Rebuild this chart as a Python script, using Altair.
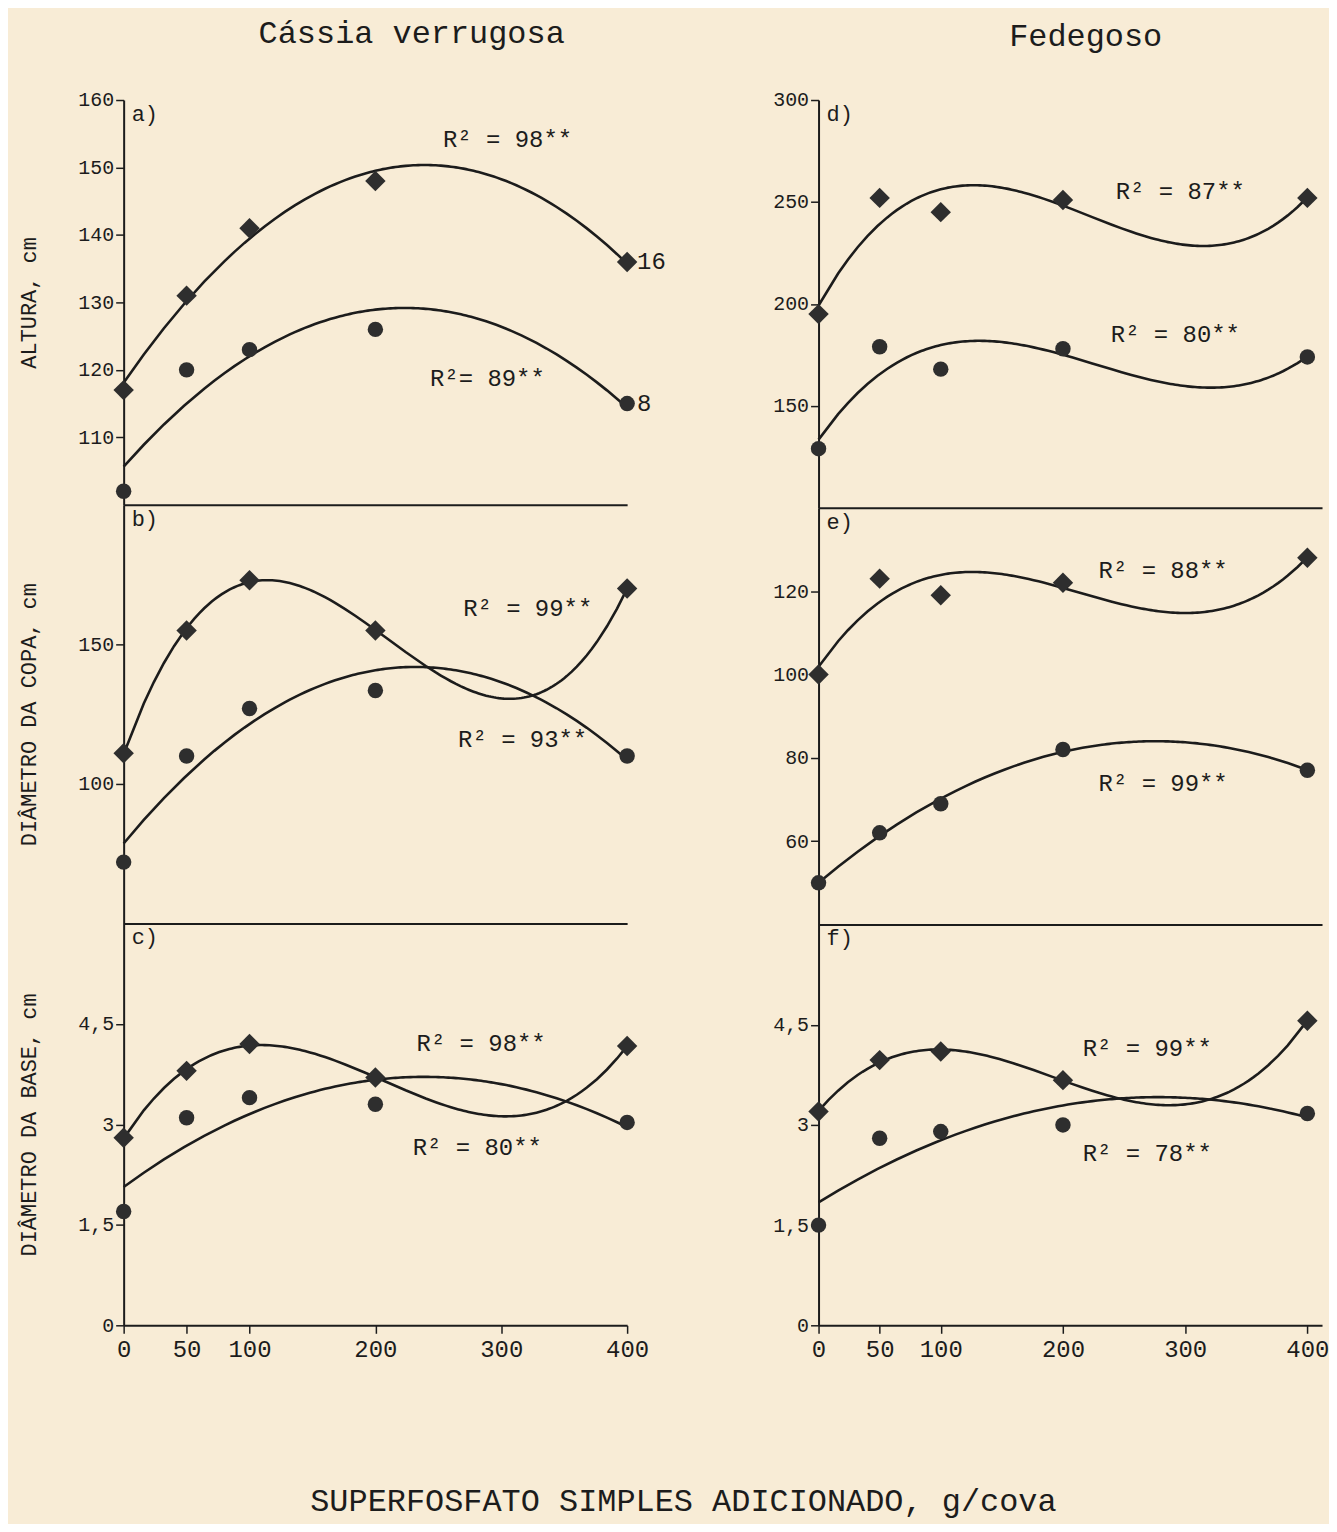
import altair as alt
import pandas as pd

# ---------------- data ----------------
doses = [0, 50, 100, 200, 400]
x_ticks = [0, 50, 100, 200, 300, 400]

# Cássia verrugosa
altura_a_diam = [117, 131, 141, 148, 136]
altura_a_circ = [102, 120, 123, 126, 115]
copa_b_diam = [111, 155, 173, 155, 170]
copa_b_circ = [72, 110, 127, 133.5, 110]
base_c_diam = [2.8, 3.8, 4.2, 3.7, 4.17]
base_c_circ = [1.7, 3.1, 3.4, 3.3, 3.03]

# Fedegoso
altura_d_diam = [195, 252, 245, 251, 252]
altura_d_circ = [129, 179, 168, 178, 174]
copa_e_diam = [100, 123, 119, 122, 128]
copa_e_circ = [50, 62, 69, 82, 77]
base_f_diam = [3.2, 3.97, 4.1, 3.67, 4.56]
base_f_circ = [1.5, 2.8, 2.9, 3.0, 3.17]

# R² labels: (x, y, text)
notes_a = [(305, 154, "R² = 98**"), (289, 118.7, "R²= 89**")]
side_a = [(400, 136, "16"), (400, 115, "8")]
notes_b = [(321, 162.6, "R² = 99**"), (317, 115.8, "R² = 93**")]
notes_c = [(284, 4.2, "R² = 98**"), (281, 2.65, "R² = 80**")]
notes_d = [(296, 255, "R² = 87**"), (292, 184.6, "R² = 80**")]
notes_e = [(282, 124.9, "R² = 88**"), (282, 73.7, "R² = 99**")]
notes_f = [(269, 4.14, "R² = 99**"), (269, 2.57, "R² = 78**")]

FONT = "Liberation Mono"
INK = "#1c1c1c"
MARK = "#2e2e2e"
BG = "#f8ecd6"


def panel(label, diam, circ, ord_d, ord_c, ydom, yvals, xdom, w, h,
          notes, bottom, ytitle=None, side=None):
    df = pd.DataFrame({"x": doses * 2, "y": diam + circ,
                       "s": ["d"] * 5 + ["c"] * 5})
    if bottom:
        xaxis = alt.Axis(values=x_ticks, labelFontSize=24, tickSize=8,
                         labelPadding=4, title=None, labelFlush=False,
                         domainWidth=2)
    else:
        xaxis = alt.Axis(labels=False, ticks=False, title=None, domainWidth=2)
    yaxis = alt.Axis(values=yvals, labelFontSize=20, tickSize=8,
                     labelExpr="replace(format(datum.value, '~g'), '.', ',')",
                     minExtent=50, maxExtent=50, title=ytitle,
                     titleFontSize=22, titlePadding=33,
                     titleFontWeight="normal", domainWidth=2)
    xenc = alt.X("x:Q", scale=alt.Scale(domain=xdom, nice=False, zero=False),
                 axis=xaxis)
    yenc = alt.Y("y:Q", scale=alt.Scale(domain=ydom, nice=False, zero=False),
                 axis=yaxis)
    base = alt.Chart(df)
    line_d = (base.transform_filter(alt.datum.s == "d")
              .transform_regression("x", "y", method="poly", order=ord_d)
              .mark_line(color=INK, strokeWidth=2.6)
              .encode(x=xenc, y=yenc))
    line_c = (base.transform_filter(alt.datum.s == "c")
              .transform_regression("x", "y", method="poly", order=ord_c)
              .mark_line(color=INK, strokeWidth=2.6)
              .encode(x="x:Q", y="y:Q"))
    pts_d = (base.transform_filter(alt.datum.s == "d")
             .mark_point(shape="diamond", filled=True, size=420, color=MARK,
                         opacity=1)
             .encode(x="x:Q", y="y:Q"))
    pts_c = (base.transform_filter(alt.datum.s == "c")
             .mark_point(shape="circle", filled=True, size=240, color=MARK,
                         opacity=1)
             .encode(x="x:Q", y="y:Q"))
    ndf = pd.DataFrame({"x": [n[0] for n in notes], "y": [n[1] for n in notes],
                        "t": [n[2] for n in notes]})
    txt = (alt.Chart(ndf).mark_text(font=FONT, fontSize=24, color=INK,
                                    align="center", baseline="middle")
           .encode(x="x:Q", y="y:Q", text="t:N"))
    lab = (alt.Chart(pd.DataFrame({"t": [label]}))
           .mark_text(font=FONT, fontSize=22, color=INK, align="left",
                      baseline="top")
           .encode(text="t:N", x=alt.value(8), y=alt.value(4)))
    layers = [line_d, line_c, pts_d, pts_c, txt, lab]
    if side:
        sdf = pd.DataFrame({"x": [s[0] for s in side], "y": [s[1] for s in side],
                            "t": [s[2] for s in side]})
        layers.append(alt.Chart(sdf).mark_text(font=FONT, fontSize=24, color=INK,
                                               align="left", baseline="middle",
                                               dx=10)
                      .encode(x="x:Q", y="y:Q", text="t:N"))
    return alt.layer(*layers).properties(width=w, height=h)


LX = [0, 400]
RX = [0, 412]
LW = 505
RW = 505

pa = panel("a)", altura_a_diam, altura_a_circ, 2, 2, [100, 160],
           [110, 120, 130, 140, 150, 160], LX, LW, 406, notes_a, False,
           "ALTURA,   cm", side_a)
pb = panel("b)", copa_b_diam, copa_b_circ, 3, 2, [50, 200], [100, 150],
           LX, LW, 420, notes_b, False, "DIÂMETRO  DA  COPA,    cm")
pc = panel("c)", base_c_diam, base_c_circ, 3, 2, [0, 6], [0, 1.5, 3, 4.5],
           LX, LW, 403, notes_c, True, "DIÂMETRO  DA  BASE,    cm")

pd_ = panel("d)", altura_d_diam, altura_d_circ, 3, 3, [100, 300],
            [150, 200, 250, 300], RX, RW, 409, notes_d, False)
pe = panel("e)", copa_e_diam, copa_e_circ, 3, 2, [40, 140],
           [60, 80, 100, 120], RX, RW, 418, notes_e, False)
pf = panel("f)", base_f_diam, base_f_circ, 3, 2, [0, 6], [0, 1.5, 3, 4.5],
           RX, RW, 402, notes_f, True)

left = alt.vconcat(pa, pb, pc, spacing=0, bounds="flush",
                   title=alt.TitleParams("Cássia verrugosa", fontSize=32,
                                         offset=40, anchor="middle", dx=70))
right = alt.vconcat(pd_, pe, pf, spacing=0, bounds="flush",
                    title=alt.TitleParams("Fedegoso", fontSize=32,
                                          offset=37, anchor="middle", dx=37))

chart = (alt.hconcat(left, right, spacing=103,
                     title=alt.TitleParams(
                         "SUPERFOSFATO SIMPLES ADICIONADO, g/cova",
                         orient="bottom", fontSize=32, offset=125,
                         anchor="middle", dx=10))
         .properties(padding={"left": 10, "top": 7, "right": 0, "bottom": 5})
         .configure(background=BG)
         .configure_view(stroke=None)
         .configure_axis(grid=False, domainColor=INK, tickColor=INK,
                         labelColor=INK, titleColor=INK, labelFont=FONT,
                         titleFont=FONT, tickWidth=1.5)
         .configure_title(font=FONT, color=INK, fontWeight="normal"))

chart.save("out.html", embed_options={"renderer": "svg", "actions": False})
